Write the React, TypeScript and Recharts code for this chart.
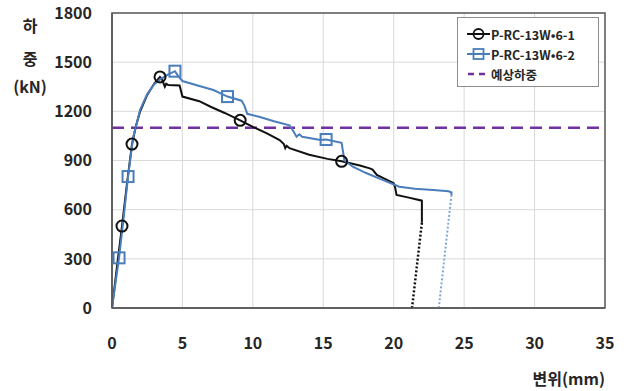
import React from 'react';
import {
  ComposedChart,
  Line,
  XAxis,
  YAxis,
  CartesianGrid,
  ReferenceLine,
  ReferenceArea,
  Legend,
} from 'recharts';

const FONT = '"Noto Sans CJK KR", "Noto Sans", sans-serif';

const xTicks = [0, 5, 10, 15, 20, 25, 30, 35];
const yTicks = [0, 300, 600, 900, 1200, 1500, 1800];
const seriesNames = ['P-RC-13W\u20226-1', 'P-RC-13W\u20226-2', '예상하중'];
const yAxisTitle = ['하', '중', '(kN)'];
const xAxisTitle = '변위(mm)';
const predictedLoad = 1100;

const s1Curve = [
  { x: 0, y: 0 }, { x: 0.35, y: 250 }, { x: 0.71, y: 500 }, { x: 1.05, y: 750 },
  { x: 1.42, y: 1000 }, { x: 1.7, y: 1110 }, { x: 2.0, y: 1200 }, { x: 2.5, y: 1300 },
  { x: 3.0, y: 1370 }, { x: 3.4, y: 1410 }, { x: 3.55, y: 1395 }, { x: 3.75, y: 1350 },
  { x: 3.85, y: 1368 }, { x: 4.0, y: 1360 }, { x: 4.8, y: 1358 }, { x: 5.0, y: 1290 },
  { x: 6.2, y: 1262 }, { x: 7.0, y: 1228 }, { x: 8.0, y: 1190 }, { x: 9.1, y: 1145 },
  { x: 10.0, y: 1105 }, { x: 11.0, y: 1065 }, { x: 11.9, y: 1025 }, { x: 12.2, y: 1000 },
  { x: 12.3, y: 975 }, { x: 12.4, y: 990 }, { x: 12.6, y: 975 }, { x: 14.0, y: 935 },
  { x: 15.3, y: 910 }, { x: 16.3, y: 895 }, { x: 17.6, y: 870 }, { x: 18.3, y: 852 },
  { x: 18.5, y: 845 }, { x: 18.8, y: 812 }, { x: 20.0, y: 762 }, { x: 20.1, y: 735 },
  { x: 20.2, y: 690 }, { x: 21.0, y: 675 }, { x: 22.0, y: 655 }, { x: 22.0, y: 520 },
];
const s1Markers = [
  { x: 0.71, y: 500 }, { x: 1.42, y: 1000 }, { x: 3.41, y: 1410 }, { x: 9.1, y: 1145 }, { x: 16.3, y: 895 },
];
const s1Tail = [{ x: 22.0, y: 520 }, { x: 21.3, y: 0 }];

const s2Curve = [
  { x: 0, y: 0 }, { x: 0.5, y: 306 }, { x: 0.8, y: 530 }, { x: 1.14, y: 802 },
  { x: 1.5, y: 1040 }, { x: 2.0, y: 1210 }, { x: 2.5, y: 1305 }, { x: 3.0, y: 1365 },
  { x: 3.5, y: 1400 }, { x: 4.0, y: 1425 }, { x: 4.47, y: 1445 }, { x: 4.7, y: 1415 },
  { x: 5.0, y: 1385 }, { x: 6.2, y: 1355 }, { x: 7.2, y: 1330 }, { x: 8.2, y: 1290 },
  { x: 9.2, y: 1265 }, { x: 9.4, y: 1235 }, { x: 9.6, y: 1185 }, { x: 10.5, y: 1165 },
  { x: 11.5, y: 1140 }, { x: 12.6, y: 1115 }, { x: 12.9, y: 1075 }, { x: 13.1, y: 1045 },
  { x: 13.3, y: 1060 }, { x: 13.5, y: 1045 }, { x: 14.8, y: 1025 }, { x: 15.2, y: 1028 },
  { x: 16.3, y: 1008 }, { x: 16.5, y: 900 }, { x: 17.1, y: 862 }, { x: 18.0, y: 825 },
  { x: 19.2, y: 782 }, { x: 20.4, y: 740 }, { x: 21.5, y: 728 }, { x: 22.8, y: 720 },
  { x: 23.9, y: 712 }, { x: 24.1, y: 705 }, { x: 24.1, y: 690 },
];
const s2Markers = [
  { x: 0.5, y: 306 }, { x: 1.14, y: 802 }, { x: 4.47, y: 1445 }, { x: 8.2, y: 1290 }, { x: 15.2, y: 1028 },
];
const s2Tail = [{ x: 24.1, y: 690 }, { x: 23.2, y: 0 }];

const BLACK = '#111111';
const BLUE = '#4A7EBB';
const BLUE_DOT = '#7fa6d6';
const PURPLE = '#7030A0';
const TEXT = '#262626';

const squareDot = (props: any) => {
  const { cx, cy, index } = props;
  if (cx == null || cy == null) return <g key={`sq-${index}`} />;
  return (
    <rect key={`sq-${index}`} x={cx - 5.5} y={cy - 5.5} width={11} height={11}
      fill="none" stroke={BLUE} strokeWidth={2} />
  );
};

const circleDot = (props: any) => {
  const { cx, cy, index } = props;
  if (cx == null || cy == null) return <g key={`ci-${index}`} />;
  return <circle key={`ci-${index}`} cx={cx} cy={cy} r={5.5} fill="none" stroke={BLACK} strokeWidth={2} />;
};

const renderLegend = () => (
  <div
    style={{
      border: '1px solid #8c8c8c',
      background: '#ffffff',
      width: 142,
      height: 70,
      boxSizing: 'border-box',
      padding: '6px 0 0 9px',
      fontFamily: FONT,
      fontSize: 12.5,
      fontWeight: 700,
      color: TEXT,
    }}
  >
    {seriesNames.map((name, i) => (
      <div key={name} style={{ display: 'flex', alignItems: 'center', height: 20 }}>
        <svg width={23} height={14} style={{ marginRight: 1 }}>
          {i === 0 && (
            <g>
              <line x1={0} y1={7} x2={23} y2={7} stroke={BLACK} strokeWidth={2} />
              <circle cx={11.5} cy={7} r={5} fill="none" stroke={BLACK} strokeWidth={1.8} />
            </g>
          )}
          {i === 1 && (
            <g>
              <line x1={0} y1={7} x2={23} y2={7} stroke={BLUE} strokeWidth={2} />
              <rect x={6.5} y={2} width={10} height={10} fill="none" stroke={BLUE} strokeWidth={1.8} />
            </g>
          )}
          {i === 2 && (
            <line x1={1} y1={7} x2={23} y2={7} stroke={PURPLE} strokeWidth={2.5} strokeDasharray="6 5" />
          )}
        </svg>
        <span style={{ whiteSpace: 'nowrap' }}>{name}</span>
      </div>
    ))}
  </div>
);

const yTitle = () => (
  <g>
    <text x={30} y={25} textAnchor="middle" dominantBaseline="central" fontFamily={FONT} fontSize={16} fontWeight={700} fill={TEXT}>{yAxisTitle[0]}</text>
    <text x={30} y={58} textAnchor="middle" dominantBaseline="central" fontFamily={FONT} fontSize={16} fontWeight={700} fill={TEXT}>{yAxisTitle[1]}</text>
    <text x={30} y={86} textAnchor="middle" dominantBaseline="central" fontFamily={FONT} fontSize={16} fontWeight={700} fill={TEXT}>{yAxisTitle[2]}</text>
  </g>
);

const xTitle = () => (
  <text x={605} y={378} textAnchor="end" dominantBaseline="central" fontFamily={FONT} fontSize={16} fontWeight={700} fill={TEXT}>{xAxisTitle}</text>
);

const tickStyle = { fill: TEXT, fontSize: 16, fontWeight: 700, fontFamily: FONT };

export default function App() {
  return (
    <div style={{ position: 'absolute', left: 0, top: 0, width: 630, height: 391, background: '#fff' }}>
      <ComposedChart width={630} height={391} margin={{ top: 13, right: 25, left: 0, bottom: 0 }}>
        <CartesianGrid stroke="#d9d9d9" strokeWidth={1} />
        <XAxis
          type="number"
          dataKey="x"
          domain={[0, 35]}
          ticks={xTicks}
          allowDecimals={false}
          height={83}
          tickLine={false}
          tickSize={6}
          tickMargin={24}
          axisLine={{ stroke: '#595959', strokeWidth: 1.5 }}
          tick={tickStyle}
          label={{ content: xTitle }}
        />
        <YAxis
          type="number"
          dataKey="y"
          domain={[0, 1800]}
          ticks={yTicks}
          width={112}
          tickLine={false}
          tickSize={6}
          tickMargin={14}
          axisLine={{ stroke: '#595959', strokeWidth: 1.5 }}
          tick={tickStyle}
          label={{ content: yTitle }}
        />
        <ReferenceArea x1={0} x2={35} y1={0} y2={1800} fill="none" stroke="#595959" strokeWidth={1.5} />
        <ReferenceLine y={predictedLoad} stroke={PURPLE} strokeWidth={2.5} strokeDasharray="12 7" />
        <Line data={s1Tail} dataKey="y" type="linear" stroke={BLACK} strokeWidth={2.5} strokeDasharray="2 2" dot={false} activeDot={false} legendType="none" isAnimationActive={false} />
        <Line data={s2Tail} dataKey="y" type="linear" stroke={BLUE_DOT} strokeWidth={2} strokeDasharray="2 2" dot={false} activeDot={false} legendType="none" isAnimationActive={false} />
        <Line data={s1Curve} dataKey="y" type="linear" stroke={BLACK} strokeWidth={2} dot={false} activeDot={false} name={seriesNames[0]} isAnimationActive={false} />
        <Line data={s2Curve} dataKey="y" type="linear" stroke={BLUE} strokeWidth={2} dot={false} activeDot={false} name={seriesNames[1]} isAnimationActive={false} />
        <Line data={s1Markers} dataKey="y" stroke="none" dot={circleDot} activeDot={false} legendType="none" isAnimationActive={false} />
        <Line data={s2Markers} dataKey="y" stroke="none" dot={squareDot} activeDot={false} legendType="none" isAnimationActive={false} />
        <Legend
          layout="vertical"
          align="center"
          verticalAlign="middle"
          content={renderLegend}
          wrapperStyle={{ left: 457, top: 17, width: 142, height: 70 }}
        />
      </ComposedChart>
    </div>
  );
}
